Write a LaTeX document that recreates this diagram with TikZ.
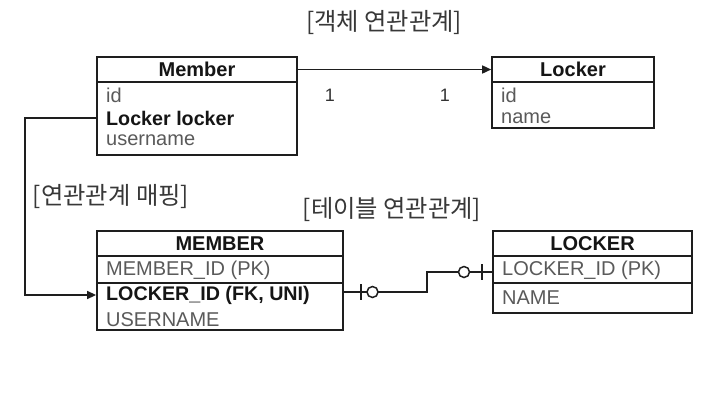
\documentclass[tikz,border=0pt]{standalone}
\usepackage{fontspec}
\setmainfont{Liberation Sans}
\newfontfamily\kr{Noto Sans CJK KR}
\usetikzlibrary{arrows.meta,shadows}
\definecolor{linec}{HTML}{1E1E1E}
\definecolor{graytext}{HTML}{5A5A5A}
\definecolor{darktext}{HTML}{151515}
\begin{document}
\begin{tikzpicture}[x=1pt,y=-1pt,
 tbl/.style={draw=linec, line width=1.8pt, fill=white, inner sep=0pt, rectangle,
   drop shadow={opacity=0.2, shadow xshift=1.2pt, shadow yshift=-1.2pt}},
 cell/.style={draw=linec, line width=1.6pt, inner sep=0pt, rectangle},
 title/.style={font=\fontsize{20}{24}\selectfont\bfseries, text=darktext, inner sep=0pt},
 attr/.style={font=\fontsize{20}{24}\selectfont, text=graytext, anchor=west, inner sep=0pt},
 battr/.style={attr, text=darktext, font=\fontsize{19.7}{24}\selectfont\bfseries},
 lbl/.style={font=\kr\fontsize{24.3}{28}\selectfont, text=black!78, inner sep=0pt},
 mult/.style={font=\fontsize{18}{22}\selectfont, text=black!80, inner sep=0pt},
 conn/.style={draw=linec, line width=1.5pt},
 arr/.style={conn, -{Triangle[length=9pt,width=8pt]}},
]
\useasboundingbox (0,0) rectangle (720,400);
\fill[white] (0,0) rectangle (720,400);

% labels
\node[lbl] (lobj) at (384,23) {[객체 연관관계]};
\node[lbl] (lmap) at (111,197) {[연관관계 매핑]};
\node[lbl] (ltab) at (392,210) {[테이블 연관관계]};

% Member (object)
\node[tbl, minimum width=200pt, minimum height=98pt] (mtab) at (197,106) {};
\node[cell, minimum width=200pt, minimum height=25pt] (mhead) at (197,69.5) {};
\node[title] (mtitle) at (mhead.center) {Member};
\node[attr] (mid) at (106,95) {id};
\node[battr] (mll) at (106,118) {Locker locker};
\node[attr] (mun) at (106,140) {username};

% Locker (object)
\node[tbl, minimum width=162pt, minimum height=71pt] (ltabo) at (573,92.5) {};
\node[cell, minimum width=162pt, minimum height=25pt] (lhead) at (573,69.5) {};
\node[title] (ltitle) at (lhead.center) {Locker};
\node[attr] (lid) at (501,95) {id};
\node[attr] (lname) at (501,118) {name};

% object association
\draw[arr] (mhead.east) -- (lhead.west);
\node[mult] (m1) at (330,95) {1};
\node[mult] (m2) at (445,95) {1};

% MEMBER (table)
\node[tbl, minimum width=246pt, minimum height=99pt] (Mtab) at (220,280.5) {};
\node[cell, minimum width=246pt, minimum height=25pt] (Mhead) at (220,243.5) {};
\node[cell, minimum width=246pt, minimum height=27pt] (Mpk) at (220,269.5) {};
\node[title] (Mtitle) at (Mhead.center) {MEMBER};
\node[attr] (Mid) at (106,270) {MEMBER\_ID (PK)};
\node[battr] (Mfk) at (106,295) {LOCKER\_ID (FK, UNI)};
\node[attr] (Mun) at (106,320) {USERNAME};

% LOCKER (table)
\node[tbl, minimum width=199pt, minimum height=82pt] (Ltab) at (592.5,272) {};
\node[cell, minimum width=199pt, minimum height=25pt] (Lhead) at (592.5,243.5) {};
\node[cell, minimum width=199pt, minimum height=27pt] (Lpk) at (592.5,269.5) {};
\node[title] (Ltitle) at (Lhead.center) {LOCKER};
\node[attr] (Lid) at (502,270) {LOCKER\_ID (PK)};
\node[attr] (Lname) at (502,298) {NAME};

% mapping connector
\coordinate (mapx) at (25,0);
\draw[arr] (mll -| mtab.west) -- (mll -| mapx) |- (Mfk -| Mtab.west);

% table relation (one-to-one, optional)
\coordinate (c1) at (427,292);
\coordinate (c2) at (427,272);
\draw[conn] (Mtab.east |- c1) -- (c1) -- (c2) -- (Ltab.west |- c2);
\draw[conn] (361,284) -- (361,300);
\draw[conn, fill=white] (372.5,292) circle (5.5pt);
\draw[conn, fill=white] (464,272) circle (5.5pt);
\draw[conn] (482,264) -- (482,280);
\end{tikzpicture}
\end{document}
